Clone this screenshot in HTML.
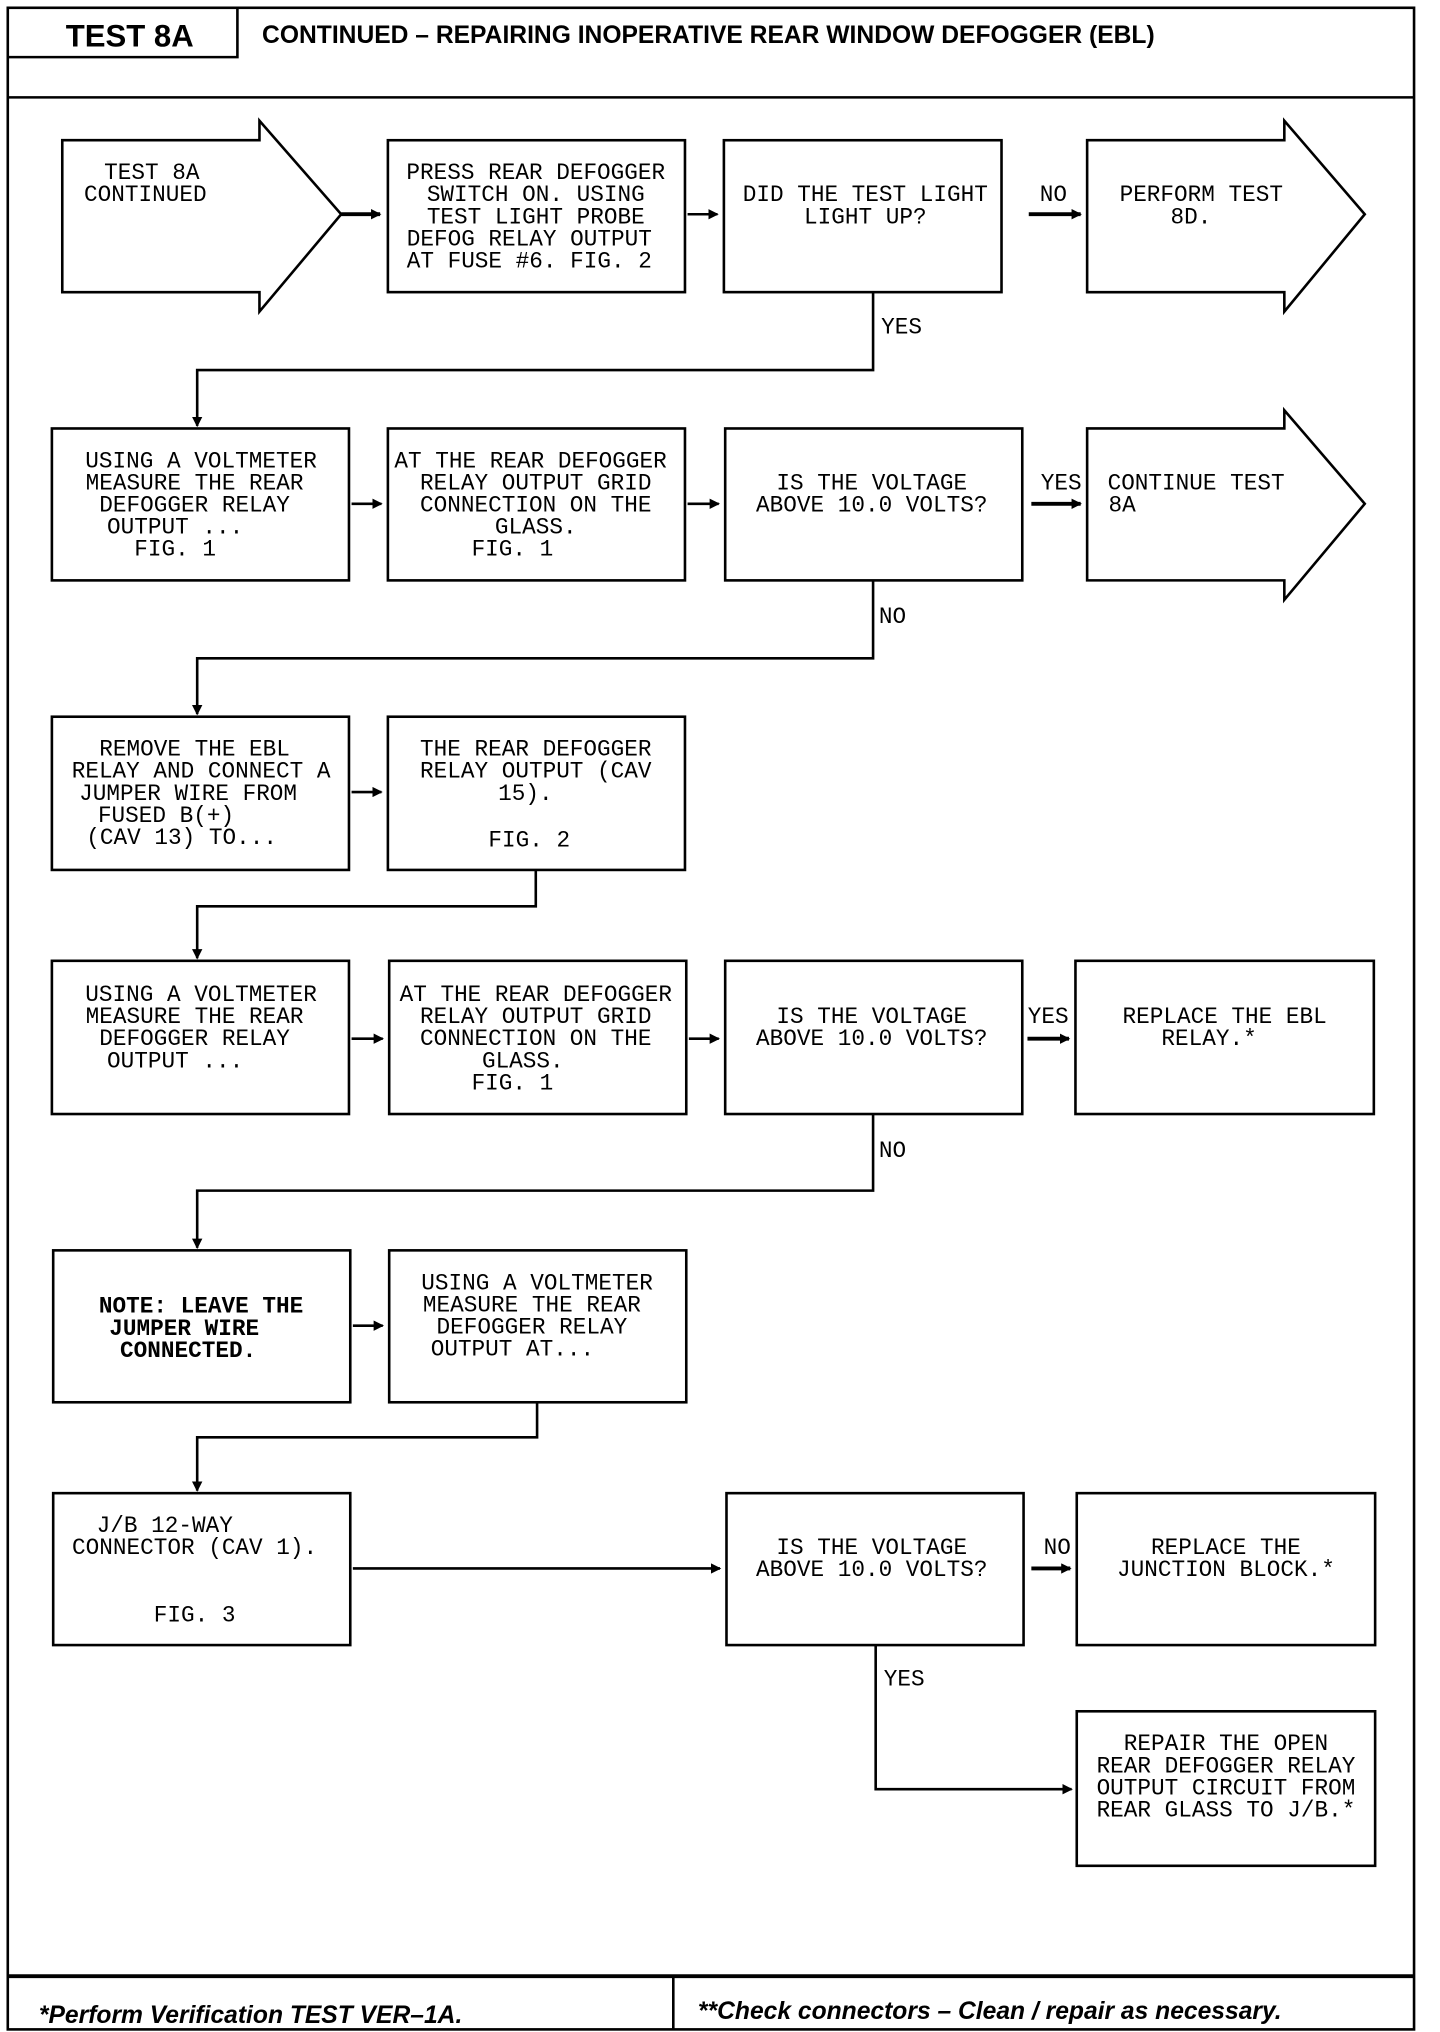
<!DOCTYPE html>
<html><head><meta charset="utf-8"><style>
html,body{margin:0;padding:0;background:#fff}
svg{display:block}
.t{font-family:"Liberation Mono",monospace;font-size:17.5px;fill:#000;text-anchor:middle}
.b{font-weight:bold}
.h{font-family:"Liberation Sans",sans-serif;font-weight:bold;fill:#000}
</style></head><body>
<svg width="1440" height="2032" viewBox="0 0 1110 1565" preserveAspectRatio="none" xmlns="http://www.w3.org/2000/svg">
<defs><marker id="a" markerWidth="8" markerHeight="8" refX="7" refY="4" orient="auto" markerUnits="userSpaceOnUse"><path d="M0,0 L8,4 L0,8 z" fill="#000"/></marker></defs>
<g fill="none" stroke="#000" stroke-width="2">
<rect x="6" y="6" width="1084" height="1557"/>
<line x1="6" y1="75" x2="1090" y2="75"/>
<polyline points="6,44 183,44 183,6"/>
<line x1="6" y1="1522" x2="1090" y2="1522" stroke-width="3"/>
<line x1="519" y1="1522" x2="519" y2="1563"/>
<path d="M48,108 H200 V93 L263,165 L200,240 V225 H48 Z"/>
<rect x="299" y="108" width="229" height="117"/>
<rect x="558" y="108" width="214" height="117"/>
<path d="M838,108 H990 V93 L1052,165 L990,240 V225 H838 Z"/>
<rect x="40" y="330" width="229" height="117"/>
<rect x="299" y="330" width="229" height="117"/>
<rect x="559" y="330" width="229" height="117"/>
<path d="M838,330 H990 V316 L1052,388 L990,462 V447 H838 Z"/>
<rect x="40" y="552" width="229" height="118"/>
<rect x="299" y="552" width="229" height="118"/>
<rect x="40" y="740" width="229" height="118"/>
<rect x="300" y="740" width="229" height="118"/>
<rect x="559" y="740" width="229" height="118"/>
<rect x="829" y="740" width="230" height="118"/>
<rect x="41" y="963" width="229" height="117"/>
<rect x="300" y="963" width="229" height="117"/>
<rect x="41" y="1150" width="229" height="117"/>
<rect x="560" y="1150" width="229" height="117"/>
<rect x="830" y="1150" width="230" height="117"/>
<rect x="830" y="1318" width="230" height="119"/>
</g>
<g fill="none" stroke="#000" stroke-width="2" marker-end="url(#a)">
<line x1="263" y1="165" x2="293" y2="165" stroke-width="3"/>
<line x1="530" y1="165" x2="553" y2="165"/>
<line x1="793" y1="165" x2="833" y2="165" stroke-width="3"/>
<polyline points="673,225 673,285 152,285 152,328"/>
<line x1="271" y1="388" x2="294" y2="388"/>
<line x1="530" y1="388" x2="554" y2="388"/>
<line x1="795" y1="388" x2="833" y2="388" stroke-width="3"/>
<polyline points="673,447 673,507 152,507 152,550"/>
<line x1="271" y1="610" x2="294" y2="610"/>
<polyline points="413,670 413,698 152,698 152,738"/>
<line x1="271" y1="800" x2="295" y2="800"/>
<line x1="531" y1="800" x2="554" y2="800"/>
<line x1="792" y1="800" x2="824" y2="800" stroke-width="3"/>
<polyline points="673,858 673,917 152,917 152,961"/>
<line x1="272" y1="1021" x2="295" y2="1021"/>
<polyline points="414,1080 414,1107 152,1107 152,1148"/>
<line x1="272" y1="1208" x2="555" y2="1208"/>
<line x1="795" y1="1208" x2="825" y2="1208" stroke-width="3"/>
<polyline points="675,1267 675,1378 826,1378"/>
</g>
<text class="h" x="100" y="36" font-size="24" text-anchor="middle">TEST 8A</text>
<text class="h" x="202" y="33" font-size="19">CONTINUED – REPAIRING INOPERATIVE REAR WINDOW DEFOGGER (EBL)</text>
<g class="t">
<text x="117" y="138">TEST 8A</text><text x="112" y="155">CONTINUED</text>
<text x="413" y="138">PRESS REAR DEFOGGER</text><text x="413" y="155">SWITCH ON. USING</text><text x="413" y="172">TEST LIGHT PROBE</text><text x="408" y="189">DEFOG RELAY OUTPUT</text><text x="408" y="206">AT FUSE #6. FIG. 2</text>
<text x="667" y="155">DID THE TEST LIGHT</text><text x="667" y="172">LIGHT UP?</text>
<text x="926" y="155">PERFORM TEST</text><text x="918" y="172">8D.</text>
<text x="812" y="155">NO</text><text x="695" y="257">YES</text>
<text x="155" y="360">USING A VOLTMETER</text><text x="150" y="377">MEASURE THE REAR</text><text x="150" y="394">DEFOGGER RELAY</text><text x="135" y="411">OUTPUT ...</text><text x="135" y="428">FIG. 1</text>
<text x="409" y="360">AT THE REAR DEFOGGER</text><text x="413" y="377">RELAY OUTPUT GRID</text><text x="413" y="394">CONNECTION ON THE</text><text x="413" y="411">GLASS.</text><text x="395" y="428">FIG. 1</text>
<text x="672" y="377">IS THE VOLTAGE</text><text x="672" y="394">ABOVE 10.0 VOLTS?</text>
<text x="922" y="377">CONTINUE TEST</text><text x="865" y="394">8A</text>
<text x="818" y="377">YES</text><text x="688" y="480">NO</text>
<text x="150" y="582">REMOVE THE EBL</text><text x="155" y="599">RELAY AND CONNECT A</text><text x="145" y="616">JUMPER WIRE FROM</text><text x="128" y="633">FUSED B(+)</text><text x="140" y="650">(CAV 13) TO...</text>
<text x="413" y="582">THE REAR DEFOGGER</text><text x="413" y="599">RELAY OUTPUT (CAV</text><text x="405" y="616">15).</text><text x="408" y="652">FIG. 2</text>
<text x="155" y="771">USING A VOLTMETER</text><text x="150" y="788">MEASURE THE REAR</text><text x="150" y="805">DEFOGGER RELAY</text><text x="135" y="822">OUTPUT ...</text>
<text x="413" y="771">AT THE REAR DEFOGGER</text><text x="413" y="788">RELAY OUTPUT GRID</text><text x="413" y="805">CONNECTION ON THE</text><text x="403" y="822">GLASS.</text><text x="395" y="839">FIG. 1</text>
<text x="672" y="788">IS THE VOLTAGE</text><text x="672" y="805">ABOVE 10.0 VOLTS?</text>
<text x="944" y="788">REPLACE THE EBL</text><text x="932" y="805">RELAY.*</text>
<text x="808" y="788">YES</text><text x="688" y="891">NO</text>
<text class="b" x="155" y="1011">NOTE: LEAVE THE</text><text class="b" x="142" y="1028">JUMPER WIRE</text><text class="b" x="145" y="1045">CONNECTED.</text>
<text x="414" y="993">USING A VOLTMETER</text><text x="410" y="1010">MEASURE THE REAR</text><text x="410" y="1027">DEFOGGER RELAY</text><text x="395" y="1044">OUTPUT AT...</text>
<text x="127" y="1180">J/B 12-WAY</text><text x="150" y="1197">CONNECTOR (CAV 1).</text><text x="150" y="1249">FIG. 3</text>
<text x="672" y="1197">IS THE VOLTAGE</text><text x="672" y="1214">ABOVE 10.0 VOLTS?</text>
<text x="815" y="1197">NO</text>
<text x="945" y="1197">REPLACE THE</text><text x="945" y="1214">JUNCTION BLOCK.*</text>
<text x="697" y="1298">YES</text>
<text x="945" y="1348">REPAIR THE OPEN</text><text x="945" y="1365">REAR DEFOGGER RELAY</text><text x="945" y="1382">OUTPUT CIRCUIT FROM</text><text x="945" y="1399">REAR GLASS TO J/B.*</text>
</g>
<text class="h" x="30" y="1558" font-size="19" font-style="italic">*Perform Verification TEST VER–1A.</text>
<text class="h" x="538" y="1555" font-size="19" font-style="italic">**Check connectors – Clean / repair as necessary.</text>
</svg>
</body></html>
